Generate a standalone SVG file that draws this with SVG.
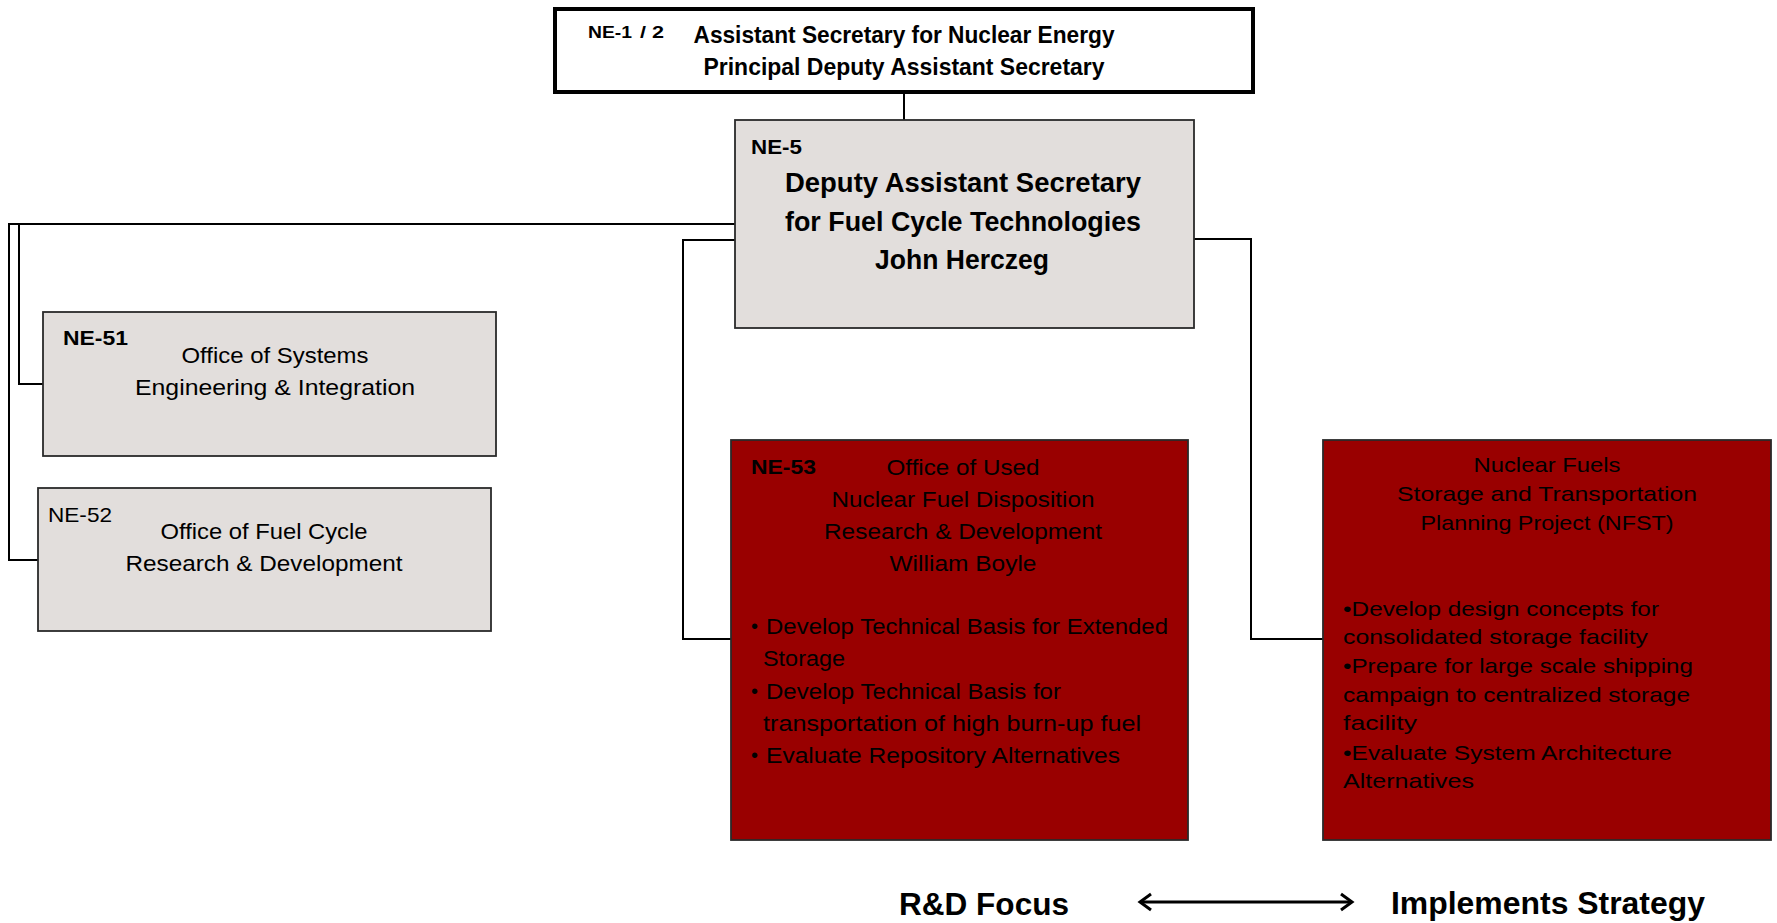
<svg xmlns="http://www.w3.org/2000/svg" width="1777" height="923" viewBox="0 0 1777 923">
<style>
.t{font-family:"Liberation Sans",Arial,sans-serif;fill:#000}
.b{font-weight:bold}
.c{text-anchor:middle}
.gray{fill:#e2dedc;stroke:#2a2a2a;stroke-width:1.8}
.red{fill:#990000;stroke:#2a2a2a;stroke-width:1.8}
.ln{fill:none;stroke:#000;stroke-width:2}
</style>
<defs>
<marker id="chev" viewBox="0 0 20 20" refX="17" refY="10" markerWidth="20" markerHeight="20" markerUnits="userSpaceOnUse" orient="auto-start-reverse">
<path d="M6,2 L17,10 L6,18" fill="none" stroke="#000" stroke-width="3"/>
</marker>
</defs>
<rect width="1777" height="923" fill="#fff"/>
<g id="connectors">
<line class="ln" x1="904" y1="92" x2="904" y2="120" stroke-width="1.5"/>
<polyline class="ln" points="735,224 9,224 9,560 38,560"/>
<polyline class="ln" points="19,224 19,384 43,384"/>
<polyline class="ln" points="735,240 683,240 683,639 731,639"/>
<polyline class="ln" points="1194,239 1251,239 1251,639 1323,639"/>
</g>
<g id="ne1">
<rect x="555" y="9" width="698" height="83" fill="#fff" stroke="#000" stroke-width="4"/>
<text class="t b" x="588" y="38" font-size="17" textLength="44" lengthAdjust="spacingAndGlyphs">NE-1</text>
<text class="t b" x="640" y="38" font-size="17" textLength="24" lengthAdjust="spacingAndGlyphs">/ 2</text>
<text class="t b c" x="904" y="43" font-size="23" textLength="421" lengthAdjust="spacingAndGlyphs">Assistant Secretary for Nuclear Energy</text>
<text class="t b c" x="904" y="75" font-size="23" textLength="401" lengthAdjust="spacingAndGlyphs">Principal Deputy Assistant Secretary</text>
</g>
<g id="ne5">
<rect class="gray" x="735" y="120" width="459" height="208"/>
<text class="t b" x="751" y="154" font-size="21" textLength="51" lengthAdjust="spacingAndGlyphs">NE-5</text>
<text class="t b c" x="963" y="192" font-size="28" textLength="356" lengthAdjust="spacingAndGlyphs">Deputy Assistant Secretary</text>
<text class="t b c" x="963" y="231" font-size="28" textLength="356" lengthAdjust="spacingAndGlyphs">for Fuel Cycle Technologies</text>
<text class="t b c" x="962" y="269" font-size="28" textLength="174" lengthAdjust="spacingAndGlyphs">John Herczeg</text>
</g>
<g id="ne51">
<rect class="gray" x="43" y="312" width="453" height="144"/>
<text class="t b" x="63" y="345" font-size="21" textLength="65" lengthAdjust="spacingAndGlyphs">NE-51</text>
<text class="t c" x="275" y="363" font-size="22" textLength="187" lengthAdjust="spacingAndGlyphs">Office of Systems</text>
<text class="t c" x="275" y="395" font-size="22" textLength="280" lengthAdjust="spacingAndGlyphs">Engineering &amp; Integration</text>
</g>
<g id="ne52">
<rect class="gray" x="38" y="488" width="453" height="143"/>
<text class="t" x="48" y="522" font-size="21" textLength="64" lengthAdjust="spacingAndGlyphs">NE-52</text>
<text class="t c" x="264" y="539" font-size="22" textLength="207" lengthAdjust="spacingAndGlyphs">Office of Fuel Cycle</text>
<text class="t c" x="264" y="571" font-size="22" textLength="277" lengthAdjust="spacingAndGlyphs">Research &amp; Development</text>
</g>
<g id="ne53">
<rect class="red" x="731" y="440" width="457" height="400"/>
<text class="t b" x="751" y="474" font-size="21" textLength="65" lengthAdjust="spacingAndGlyphs">NE-53</text>
<text class="t c" x="963" y="475" font-size="22" textLength="153" lengthAdjust="spacingAndGlyphs">Office of Used</text>
<text class="t c" x="963" y="507" font-size="22" textLength="263" lengthAdjust="spacingAndGlyphs">Nuclear Fuel Disposition</text>
<text class="t c" x="963" y="539" font-size="22" textLength="278" lengthAdjust="spacingAndGlyphs">Research &amp; Development</text>
<text class="t c" x="963" y="571" font-size="22" textLength="147" lengthAdjust="spacingAndGlyphs">William Boyle</text>
<text class="t" x="751" y="633" font-size="20">•</text>
<text class="t" x="766" y="634" font-size="22" textLength="402" lengthAdjust="spacingAndGlyphs">Develop Technical Basis for Extended</text>
<text class="t" x="763" y="666" font-size="22" textLength="82" lengthAdjust="spacingAndGlyphs">Storage</text>
<text class="t" x="751" y="698" font-size="20">•</text>
<text class="t" x="766" y="699" font-size="22" textLength="295" lengthAdjust="spacingAndGlyphs">Develop Technical Basis for</text>
<text class="t" x="763" y="731" font-size="22" textLength="378" lengthAdjust="spacingAndGlyphs">transportation of high burn-up fuel</text>
<text class="t" x="751" y="762" font-size="20">•</text>
<text class="t" x="766" y="763" font-size="22" textLength="354" lengthAdjust="spacingAndGlyphs">Evaluate Repository Alternatives</text>
</g>
<g id="nfst">
<rect class="red" x="1323" y="440" width="448" height="400"/>
<text class="t c" x="1547" y="472" font-size="21" textLength="147" lengthAdjust="spacingAndGlyphs">Nuclear Fuels</text>
<text class="t c" x="1547" y="501" font-size="21" textLength="300" lengthAdjust="spacingAndGlyphs">Storage and Transportation</text>
<text class="t c" x="1547" y="530" font-size="21" textLength="253" lengthAdjust="spacingAndGlyphs">Planning Project (NFST)</text>
<text class="t" x="1343" y="616" font-size="21" textLength="316" lengthAdjust="spacingAndGlyphs">•Develop design concepts for</text>
<text class="t" x="1343" y="644" font-size="21" textLength="305" lengthAdjust="spacingAndGlyphs">consolidated storage facility</text>
<text class="t" x="1343" y="673" font-size="21" textLength="350" lengthAdjust="spacingAndGlyphs">•Prepare for large scale shipping</text>
<text class="t" x="1343" y="702" font-size="21" textLength="347" lengthAdjust="spacingAndGlyphs">campaign to centralized storage</text>
<text class="t" x="1343" y="730" font-size="21" textLength="74" lengthAdjust="spacingAndGlyphs">facility</text>
<text class="t" x="1343" y="760" font-size="21" textLength="329" lengthAdjust="spacingAndGlyphs">•Evaluate System Architecture</text>
<text class="t" x="1343" y="788" font-size="21" textLength="131" lengthAdjust="spacingAndGlyphs">Alternatives</text>
</g>
<g id="legend">
<text class="t b" x="899" y="915" font-size="31" textLength="170" lengthAdjust="spacingAndGlyphs">R&amp;D Focus</text>
<line x1="1140" y1="902" x2="1352" y2="902" stroke="#000" stroke-width="3" marker-start="url(#chev)" marker-end="url(#chev)"/>
<text class="t b" x="1391" y="914" font-size="31" textLength="314" lengthAdjust="spacingAndGlyphs">Implements Strategy</text>
</g>
</svg>
